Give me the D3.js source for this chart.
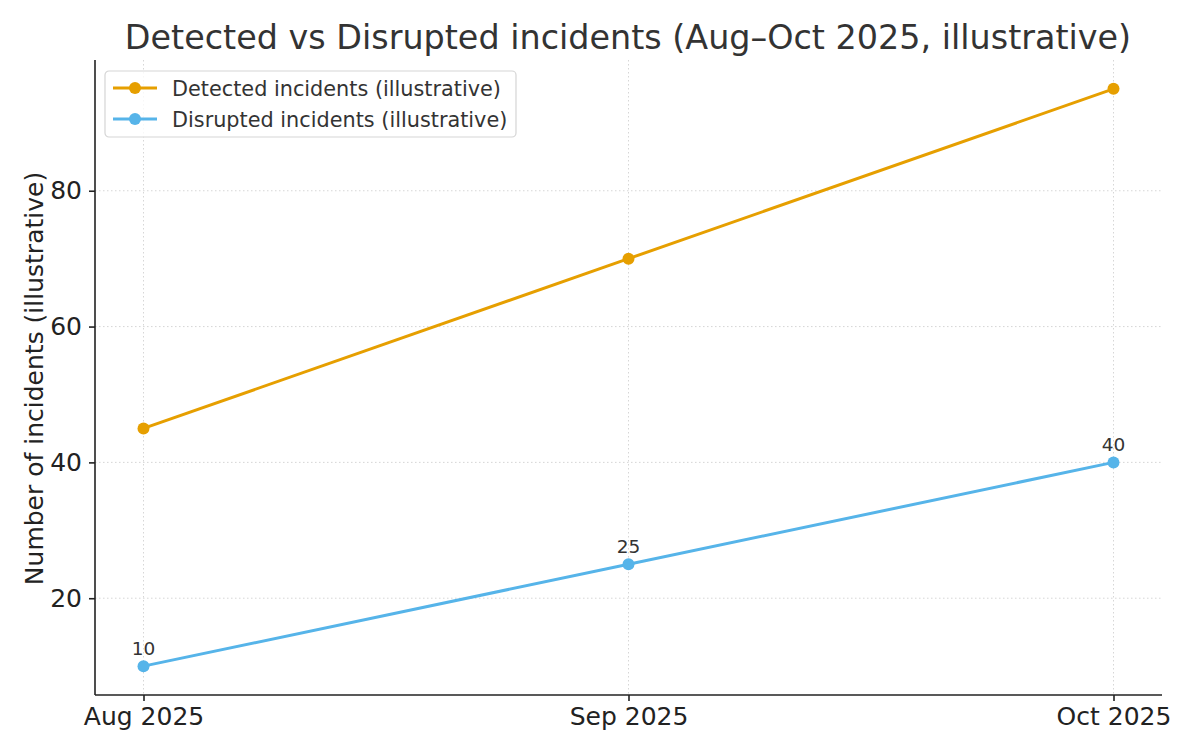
<!DOCTYPE html>
<html>
<head>
<meta charset="utf-8">
<script src="https://cdn.jsdelivr.net/npm/d3@7"></script>
<style>
  body { margin: 0; background: #fff; }
  svg text { font-family: "DejaVu Sans", sans-serif; }
</style>
</head>
<body>
<div id="chart"></div>
<script>
var months = ["Aug 2025", "Sep 2025", "Oct 2025"];
var detected = [45, 70, 95];
var disrupted = [10, 25, 40];
var yTicks = [20, 40, 60, 80];

var W = 1200, H = 750;
var margin = {top: 60, right: 38, bottom: 55, left: 95},
    width = W - margin.left - margin.right,
    height = H - margin.top - margin.bottom;

var svg = d3.select("#chart").append("svg")
    .attr("width", W)
    .attr("height", H);

var g = svg.append("g")
    .attr("transform", "translate(" + margin.left + "," + margin.top + ")");

var x = d3.scaleLinear().domain([-0.1, 2.1]).range([0, width]);
var y = d3.scaleLinear().domain([5.75, 99.25]).range([height, 0]);

// grid
g.selectAll(".gx").data(months).enter().append("line")
    .attr("x1", function(d, i) { return x(i); })
    .attr("x2", function(d, i) { return x(i); })
    .attr("y1", 0).attr("y2", height)
    .attr("stroke", "#cccccc").attr("stroke-width", 0.8)
    .attr("stroke-dasharray", "1.5,2.5");
g.selectAll(".gy").data(yTicks).enter().append("line")
    .attr("x1", 0).attr("x2", width)
    .attr("y1", function(d) { return y(d); })
    .attr("y2", function(d) { return y(d); })
    .attr("stroke", "#cccccc").attr("stroke-width", 0.8)
    .attr("stroke-dasharray", "1.5,2.5");

// axes
var xAxis = d3.axisBottom(x).tickValues([0, 1, 2])
    .tickFormat(function(d) { return months[d]; }).tickSize(6).tickPadding(6);
var yAxis = d3.axisLeft(y).tickValues(yTicks).tickSize(6).tickPadding(7);

var gx = g.append("g").attr("transform", "translate(0," + height + ")").call(xAxis);
var gy = g.append("g").call(yAxis);
[gx, gy].forEach(function(a) {
  a.attr("font-size", null).attr("font-family", null);
  a.select(".domain").attr("stroke", "#222").attr("stroke-width", 1.6);
  a.selectAll(".tick line").attr("stroke", "#222").attr("stroke-width", 1.6);
  a.selectAll(".tick text").attr("fill", "#222").style("font-size", "25px");
});
gx.select(".domain").attr("d", "M0,0H" + width);
gy.select(".domain").attr("d", "M0," + height + "V0");

// lines
var series = [
  {name: "Detected incidents (illustrative)", values: detected, color: "#E69F00", labels: false},
  {name: "Disrupted incidents (illustrative)", values: disrupted, color: "#56B4E9", labels: true}
];

var line = d3.line()
    .x(function(d, i) { return x(i); })
    .y(function(d) { return y(d); });

series.forEach(function(s) {
  g.append("path")
    .datum(s.values)
    .attr("d", line)
    .attr("fill", "none")
    .attr("stroke", s.color)
    .attr("stroke-width", 3);
  g.selectAll(null).data(s.values).enter().append("circle")
    .attr("cx", function(d, i) { return x(i); })
    .attr("cy", function(d) { return y(d); })
    .attr("r", 6)
    .attr("fill", s.color);
  if (s.labels) {
    g.selectAll(null).data(s.values).enter().append("text")
      .attr("x", function(d, i) { return x(i); })
      .attr("y", function(d) { return y(d) - 11; })
      .attr("text-anchor", "middle")
      .attr("fill", "#333")
      .style("font-size", "18.5px")
      .text(function(d) { return d; });
  }
});

// legend
var lg = g.append("g").attr("transform", "translate(10,11)");
lg.append("rect")
  .attr("width", 411).attr("height", 66).attr("rx", 4)
  .attr("fill", "#fff").attr("fill-opacity", 0.8)
  .attr("stroke", "#d5d5d5").attr("stroke-width", 1.2);
series.forEach(function(s, i) {
  var yy = 17 + i * 31;
  lg.append("line").attr("x1", 8).attr("x2", 52).attr("y1", yy).attr("y2", yy)
    .attr("stroke", s.color).attr("stroke-width", 3);
  lg.append("circle").attr("cx", 30).attr("cy", yy).attr("r", 6).attr("fill", s.color);
  lg.append("text").attr("x", 67).attr("y", yy + 7.5)
    .attr("fill", "#333").style("font-size", "20.8px").text(s.name);
});

// title and y label
svg.append("text")
  .attr("x", 628).attr("y", 49)
  .attr("text-anchor", "middle")
  .attr("fill", "#333")
  .style("font-size", "33.4px")
  .text("Detected vs Disrupted incidents (Aug\u2013Oct 2025, illustrative)");

svg.append("text")
  .attr("transform", "translate(43," + (margin.top + height / 2 + 1) + ") rotate(-90)")
  .attr("text-anchor", "middle")
  .attr("fill", "#222")
  .style("font-size", "25px")
  .text("Number of incidents (illustrative)");
</script>
</body>
</html>
